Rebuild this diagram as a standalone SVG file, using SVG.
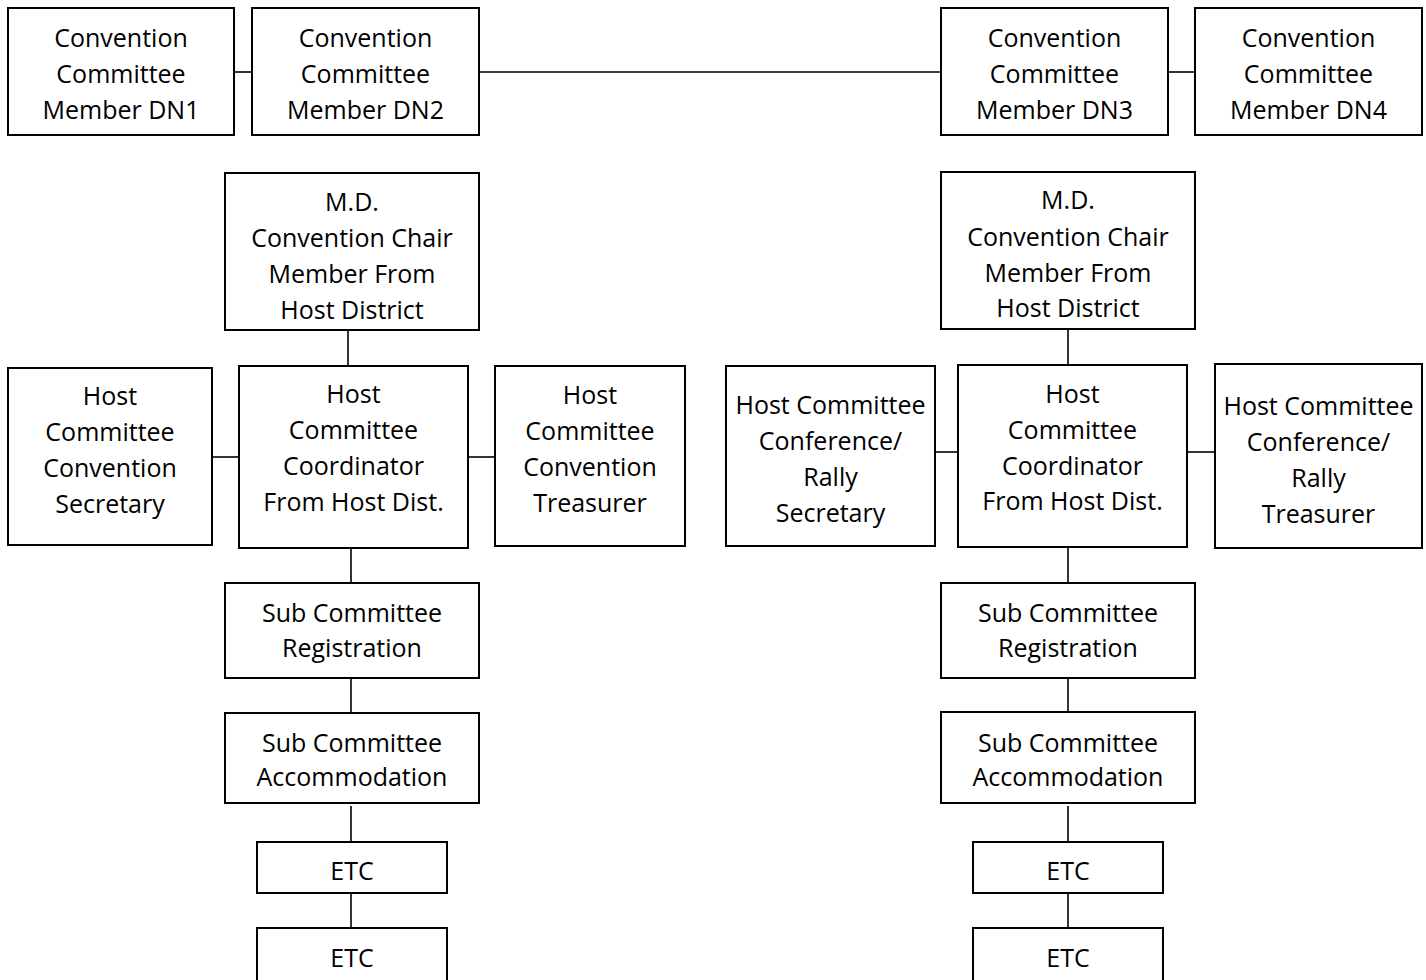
<svg xmlns="http://www.w3.org/2000/svg" width="1426" height="980" viewBox="0 0 1426 980">
<style>
rect.box{fill:#fff;stroke:#000;stroke-width:2}
line{stroke:#000;stroke-width:1.6}
text{font-family:"Open Sans","Liberation Sans",sans-serif;font-size:25px;fill:#000;text-anchor:middle}
</style>
<rect width="1426" height="980" fill="#fff"/>
<g id="connectors">
<line x1="234" y1="72" x2="252" y2="72"/>
<line x1="479" y1="72" x2="941" y2="72"/>
<line x1="1168" y1="72" x2="1195" y2="72"/>
<line x1="348" y1="330" x2="348" y2="366"/>
<line x1="212" y1="457" x2="239" y2="457"/>
<line x1="468" y1="457" x2="495" y2="457"/>
<line x1="351" y1="548" x2="351" y2="583"/>
<line x1="351" y1="678" x2="351" y2="713"/>
<line x1="351" y1="806" x2="351" y2="842"/>
<line x1="351" y1="893" x2="351" y2="928"/>
<line x1="1068" y1="329" x2="1068" y2="365"/>
<line x1="935" y1="452" x2="958" y2="452"/>
<line x1="1187" y1="452" x2="1215" y2="452"/>
<line x1="1068" y1="547" x2="1068" y2="583"/>
<line x1="1068" y1="678" x2="1068" y2="712"/>
<line x1="1068" y1="806" x2="1068" y2="842"/>
<line x1="1068" y1="893" x2="1068" y2="928"/>
</g>
<g id="dn1"><rect class="box" x="8" y="8" width="226" height="127"/><text x="121" y="47">Convention</text><text x="121" y="83">Committee</text><text x="121" y="119">Member DN1</text></g>
<g id="dn2"><rect class="box" x="252" y="8" width="227" height="127"/><text x="365.5" y="47">Convention</text><text x="365.5" y="83">Committee</text><text x="365.5" y="119">Member DN2</text></g>
<g id="dn3"><rect class="box" x="941" y="8" width="227" height="127"/><text x="1054.5" y="47">Convention</text><text x="1054.5" y="83">Committee</text><text x="1054.5" y="119">Member DN3</text></g>
<g id="dn4"><rect class="box" x="1195" y="8" width="227" height="127"/><text x="1308.5" y="47">Convention</text><text x="1308.5" y="83">Committee</text><text x="1308.5" y="119">Member DN4</text></g>
<g id="md-left"><rect class="box" x="225" y="173" width="254" height="157"/><text x="352" y="211">M.D.</text><text x="352" y="247">Convention Chair</text><text x="352" y="283">Member From</text><text x="352" y="319">Host District</text></g>
<g id="sec-left"><rect class="box" x="8" y="368" width="204" height="177"/><text x="110" y="405">Host</text><text x="110" y="441">Committee</text><text x="110" y="477">Convention</text><text x="110" y="513">Secretary</text></g>
<g id="coord-left"><rect class="box" x="239" y="366" width="229" height="182"/><text x="353.5" y="403">Host</text><text x="353.5" y="439">Committee</text><text x="353.5" y="475">Coordinator</text><text x="353.5" y="511">From Host Dist.</text></g>
<g id="treas-left"><rect class="box" x="495" y="366" width="190" height="180"/><text x="590" y="404">Host</text><text x="590" y="440">Committee</text><text x="590" y="476">Convention</text><text x="590" y="512">Treasurer</text></g>
<g id="reg-left"><rect class="box" x="225" y="583" width="254" height="95"/><text x="352" y="622">Sub Committee</text><text x="352" y="657">Registration</text></g>
<g id="acc-left"><rect class="box" x="225" y="713" width="254" height="90"/><text x="352" y="752">Sub Committee</text><text x="352" y="786">Accommodation</text></g>
<g id="etc1-left"><rect class="box" x="257" y="842" width="190" height="51"/><text x="352" y="880">ETC</text></g>
<g id="etc2-left"><rect class="box" x="257" y="928" width="190" height="60"/><text x="352" y="967">ETC</text></g>
<g id="md-right"><rect class="box" x="941" y="172" width="254" height="157"/><text x="1068" y="209">M.D.</text><text x="1068" y="246">Convention Chair</text><text x="1068" y="282">Member From</text><text x="1068" y="317">Host District</text></g>
<g id="sec-right"><rect class="box" x="726" y="366" width="209" height="180"/><text x="830.5" y="414">Host Committee</text><text x="830.5" y="450">Conference/</text><text x="830.5" y="486">Rally</text><text x="830.5" y="522">Secretary</text></g>
<g id="coord-right"><rect class="box" x="958" y="365" width="229" height="182"/><text x="1072.5" y="403">Host</text><text x="1072.5" y="439">Committee</text><text x="1072.5" y="475">Coordinator</text><text x="1072.5" y="510">From Host Dist.</text></g>
<g id="treas-right"><rect class="box" x="1215" y="364" width="207" height="184"/><text x="1318.5" y="415">Host Committee</text><text x="1318.5" y="451">Conference/</text><text x="1318.5" y="487">Rally</text><text x="1318.5" y="523">Treasurer</text></g>
<g id="reg-right"><rect class="box" x="941" y="583" width="254" height="95"/><text x="1068" y="622">Sub Committee</text><text x="1068" y="657">Registration</text></g>
<g id="acc-right"><rect class="box" x="941" y="712" width="254" height="91"/><text x="1068" y="752">Sub Committee</text><text x="1068" y="786">Accommodation</text></g>
<g id="etc1-right"><rect class="box" x="973" y="842" width="190" height="51"/><text x="1068" y="880">ETC</text></g>
<g id="etc2-right"><rect class="box" x="973" y="928" width="190" height="60"/><text x="1068" y="967">ETC</text></g>
</svg>
